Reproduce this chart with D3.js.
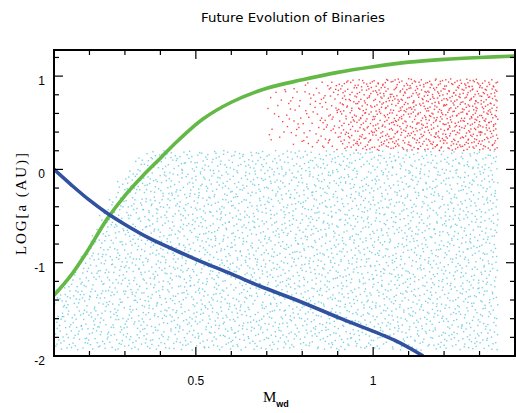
<!DOCTYPE html>
<html>
<head>
<meta charset="utf-8">
<script src="https://cdn.jsdelivr.net/npm/d3@7"></script>
<style>
  body { margin: 0; background: #fff; }
</style>
</head>
<body>
<div id="plot-container"></div>
<script>
// Curves: white dwarf mass vs log separation
const greenM    = [0.10, 0.145, 0.19, 0.25, 0.30, 0.35, 0.40, 0.45, 0.52, 0.60, 0.70, 0.80, 0.90, 1.00, 1.10, 1.20, 1.30, 1.40];
const greenLogA = [-1.35, -1.15, -0.90, -0.53, -0.28, -0.07, 0.12, 0.31, 0.54, 0.72, 0.87, 0.96, 1.04, 1.10, 1.15, 1.18, 1.20, 1.215];
const blueM     = [0.10, 0.15, 0.20, 0.25, 0.30, 0.37, 0.45, 0.51, 0.60, 0.68, 0.79, 0.91, 1.06, 1.141];
const blueLogA  = [0.0, -0.17, -0.33, -0.47, -0.59, -0.74, -0.88, -0.98, -1.12, -1.25, -1.41, -1.60, -1.83, -2.0];

// Scatter clouds, as a density grid (column edges in M)
const cyanEdges   = [0.10, 0.125, 0.15, 0.175, 0.20, 0.225, 0.25, 0.275, 0.30, 0.325, 0.35, 1.35];
const cyanTop     = [-1.28, -1.20, -1.08, -0.90, -0.62, -0.42, -0.28, -0.12, 0.02, 0.15, 0.21];
const cyanBottom  = -1.93;
const cyanDensity = 1400;  // dots per unit area

const redEdges  = [0.70, 0.75, 0.80, 0.85, 0.90, 0.95, 1.00, 1.05, 1.10, 1.15, 1.20, 1.25, 1.30, 1.35];
const redTop    = [0.87, 0.91, 0.94, 0.96, 0.97, 0.97, 0.98, 0.98, 0.98, 0.98, 0.98, 0.98, 0.97];
const redBottom = [0.30, 0.27, 0.24, 0.22, 0.22, 0.21, 0.21, 0.21, 0.21, 0.21, 0.21, 0.21, 0.21];
const redCount  = [14, 22, 30, 45, 70, 85, 90, 95, 95, 100, 100, 105, 100];

const xTicks = [0.5, 1];
const yTicks = [-2, -1, 0, 1];

const width = 516, height = 413;
const margin = { top: 50, right: 1, bottom: 57, left: 54 };

const svg = d3.select("#plot-container").append("svg")
    .attr("width", width).attr("height", height)
    .attr("viewBox", [0, 0, width, height]);

const xScale = d3.scaleLinear().domain([0.1, 1.4]).range([margin.left, width - margin.right]);
const yScale = d3.scaleLinear().domain([-2, 1.28]).range([height - margin.bottom, margin.top]);

svg.append("defs").append("clipPath").attr("id", "clip")
  .append("rect")
    .attr("x", xScale(0.1)).attr("y", yScale(1.28))
    .attr("width", xScale(1.4) - xScale(0.1))
    .attr("height", yScale(-2) - yScale(1.28));

// van der Corput radical inverse (leaped Halton), spreads dots inside each cell
function radical(i, base) {
  let f = 1, r = 0;
  while (i > 0) { f /= base; r += f * (i % base); i = Math.floor(i / base); }
  return r;
}

function cloud(edges, tops, bottoms, counts, seed) {
  let pts = [], k = seed;
  for (let b = 0; b < edges.length - 1; b++) {
    for (let j = 0; j < counts[b]; j++, k++) {
      const n = k * 409;
      pts.push({
        m: edges[b] + radical(n, 2) * (edges[b + 1] - edges[b]),
        a: bottoms[b] + radical(n, 3) * (tops[b] - bottoms[b])
      });
    }
  }
  return pts;
}

const cyanBottoms = cyanTop.map(() => cyanBottom);
const cyanCounts = cyanTop.map((t, i) =>
  Math.round(cyanDensity * (cyanEdges[i + 1] - cyanEdges[i]) * (t - cyanBottom)));
const cyanPts = cloud(cyanEdges, cyanTop, cyanBottoms, cyanCounts, 17);
const redPts = cloud(redEdges, redTop, redBottom, redCount, 5003);

const plotArea = svg.append("g").attr("clip-path", "url(#clip)");

plotArea.append("g").selectAll("rect")
  .data(cyanPts).enter().append("rect")
    .attr("x", d => xScale(d.m)).attr("y", d => yScale(d.a))
    .attr("width", 1.4).attr("height", 1.4)
    .attr("fill", "#52c3d8").attr("fill-opacity", 0.75);

plotArea.append("g").selectAll("rect")
  .data(redPts).enter().append("rect")
    .attr("x", d => xScale(d.m)).attr("y", d => yScale(d.a))
    .attr("width", 1.4).attr("height", 1.4)
    .attr("fill", "#ee2a34").attr("fill-opacity", 0.85);

const line = d3.line()
    .x(d => xScale(d[0]))
    .y(d => yScale(d[1]))
    .curve(d3.curveCatmullRom.alpha(0.5));

plotArea.append("path")
    .attr("d", line(greenM.map((m, i) => [m, greenLogA[i]])))
    .attr("fill", "none").attr("stroke", "#64b946").attr("stroke-width", 3.6);

plotArea.append("path")
    .attr("d", line(blueM.map((m, i) => [m, blueLogA[i]])))
    .attr("fill", "none").attr("stroke", "#3050a0").attr("stroke-width", 3.6);

// Axes: inward ticks on all four sides, labels drawn separately
const xMinor = d3.range(2, 14).map(i => i / 10);
const yMinor = d3.range(-9, 7).map(i => i / 5);

function tickLen(v, step) {
  return Math.abs(v / step - Math.round(v / step)) < 1e-6 ? 9 : 5;
}

const ticks = svg.append("g").attr("stroke", "#000").attr("stroke-width", 1.2);
xMinor.forEach(v => {
  const x = xScale(v), L = tickLen(v, 0.5);
  ticks.append("line").attr("x1", x).attr("x2", x)
      .attr("y1", yScale(-2)).attr("y2", yScale(-2) - L);
  ticks.append("line").attr("x1", x).attr("x2", x)
      .attr("y1", yScale(1.28)).attr("y2", yScale(1.28) + L);
});
yMinor.forEach(v => {
  const y = yScale(v), L = tickLen(v, 1);
  ticks.append("line").attr("y1", y).attr("y2", y)
      .attr("x1", xScale(0.1)).attr("x2", xScale(0.1) + L);
  ticks.append("line").attr("y1", y).attr("y2", y)
      .attr("x1", xScale(1.4)).attr("x2", xScale(1.4) - L);
});

svg.append("rect")
    .attr("x", xScale(0.1)).attr("y", yScale(1.28))
    .attr("width", xScale(1.4) - xScale(0.1))
    .attr("height", yScale(-2) - yScale(1.28))
    .attr("fill", "none").attr("stroke", "#000").attr("stroke-width", 2);

const sans = "'Liberation Sans', Arial, sans-serif";
const serif = "'Liberation Serif', 'Times New Roman', serif";

svg.append("g").selectAll("text")
  .data(xTicks).enter().append("text")
    .attr("x", d => xScale(d)).attr("y", 384.5)
    .attr("text-anchor", "middle")
    .attr("font-family", sans).attr("font-size", 12)
    .text(d => d);

svg.append("g").selectAll("text")
  .data(yTicks).enter().append("text")
    .attr("x", 45).attr("y", d => yScale(d) + 9)
    .attr("text-anchor", "end")
    .attr("font-family", sans).attr("font-size", 12)
    .text(d => d);

svg.append("text")
    .attr("x", 293).attr("y", 21.5)
    .attr("text-anchor", "middle")
    .attr("font-family", "'DejaVu Sans', sans-serif").attr("font-size", 11.5)
    .attr("textLength", 184).attr("lengthAdjust", "spacingAndGlyphs")
    .text("Future Evolution of Binaries");

svg.append("text")
    .attr("transform", "translate(26,204) rotate(-90)")
    .attr("text-anchor", "middle")
    .attr("font-family", serif).attr("font-size", 15)
    .attr("textLength", 102).attr("lengthAdjust", "spacing")
    .text("LOG[a (AU)]");

const xl = svg.append("text")
    .attr("x", 263).attr("y", 401.5)
    .attr("font-family", serif).attr("font-size", 15);
xl.append("tspan").text("M");
xl.append("tspan").attr("dy", 5).attr("font-family", sans)
    .attr("font-weight", "bold").attr("font-size", 9).text("wd");
</script>
</body>
</html>
